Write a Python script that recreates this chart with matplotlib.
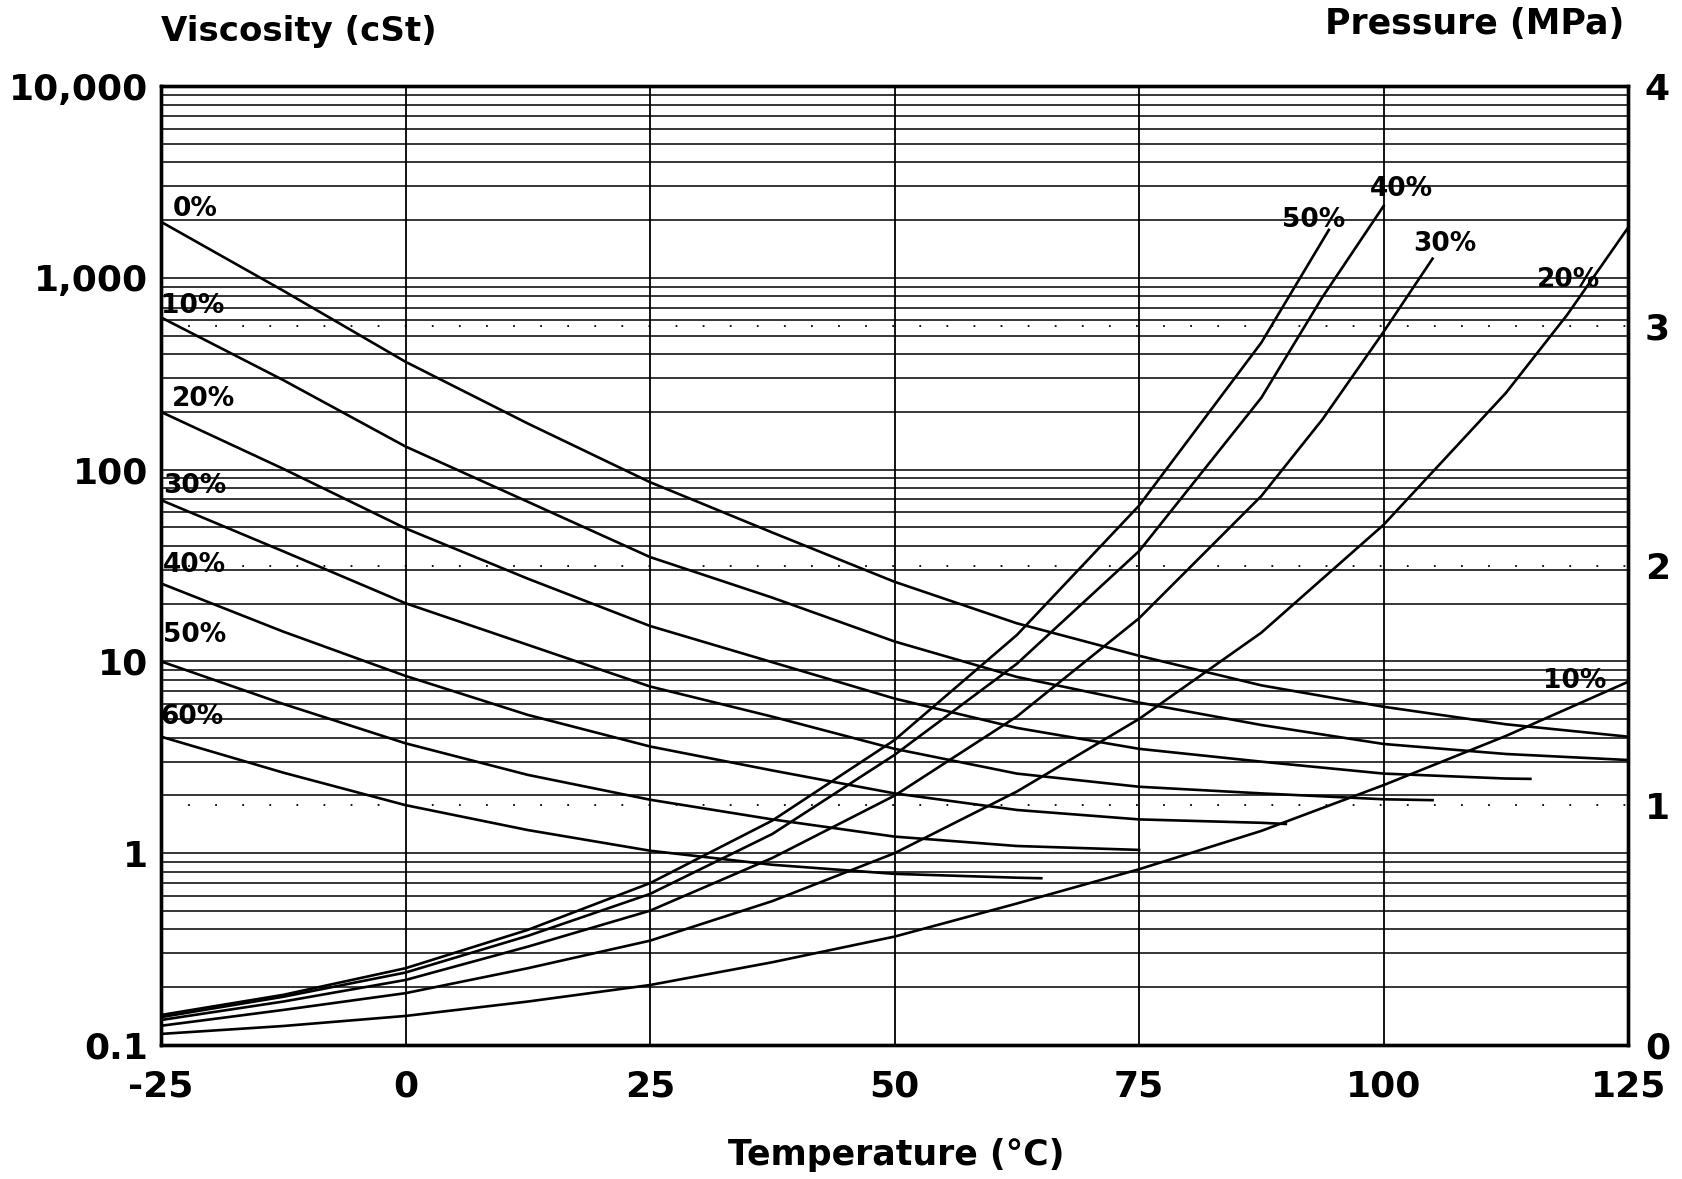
import numpy as np
import matplotlib.pyplot as plt
from matplotlib.ticker import FixedLocator, LogLocator, NullFormatter

plt.rcParams['font.family'] = ['DejaVu Sans']
plt.rcParams['font.weight'] = 'bold'

# temperature (C) where the curves were read
temp = [-25, -12.5, 0, 12.5, 25, 37.5, 50, 62.5, 75, 87.5, 100, 112.5, 125]

# viscosity (cSt), left axis, per % refrigerant
visc_0 = [1960, 857, 365, 174, 86, 47, 26, 15.8, 10.7, 7.5, 5.8, 4.7, 4.05]
visc_10 = [622, 293, 132, 68, 35, 21.5, 12.7, 8.3, 6.1, 4.66, 3.71, 3.29, 3.06]
visc_20_t = [-25, -12.5, 0, 12.5, 25, 37.5, 50, 62.5, 75, 87.5, 100, 112.5, 115]
visc_20 = [200, 101, 49.4, 27, 15.3, 9.9, 6.4, 4.5, 3.5, 3.0, 2.6, 2.45, 2.44]
visc_30_t = [-25, -12.5, 0, 12.5, 25, 37.5, 50, 62.5, 75, 87.5, 100, 105]
visc_30 = [69.4, 37.5, 20.1, 12.2, 7.4, 5.15, 3.5, 2.6, 2.22, 2.05, 1.91, 1.89]
visc_40_t = [-25, -12.5, 0, 12.5, 25, 37.5, 50, 62.5, 75, 87.5, 90]
visc_40 = [25.5, 14.3, 8.4, 5.26, 3.6, 2.7, 2.05, 1.68, 1.5, 1.44, 1.42]
visc_50_t = [-25, -12.5, 0, 12.5, 25, 37.5, 50, 62.5, 75]
visc_50 = [10, 6.0, 3.74, 2.56, 1.9, 1.5, 1.22, 1.09, 1.04]
visc_60_t = [-25, -12.5, 0, 12.5, 25, 37.5, 50, 62.5, 65]
visc_60 = [4.05, 2.63, 1.78, 1.32, 1.03, 0.87, 0.78, 0.745, 0.74]

# pressure (MPa), right axis
press_10 = [0.046, 0.079, 0.121, 0.181, 0.25, 0.345, 0.452, 0.59, 0.733, 0.893, 1.084, 1.289, 1.515]
press_20_t = [-25, -12.5, 0, 12.5, 25, 37.5, 50, 62.5, 75, 87.5, 100, 112.5, 118.75, 125]
press_20 = [0.08, 0.146, 0.216, 0.32, 0.435, 0.6, 0.8, 1.057, 1.36, 1.72, 2.17, 2.72, 3.045, 3.41]
press_30_t = [-25, -12.5, 0, 12.5, 25, 37.5, 50, 62.5, 75, 87.5, 93.75, 100, 105]
press_30 = [0.104, 0.181, 0.271, 0.41, 0.56, 0.78, 1.04, 1.37, 1.78, 2.29, 2.61, 2.975, 3.28]
press_40_t = [-25, -12.5, 0, 12.5, 25, 37.5, 50, 62.5, 75, 87.5, 93.75, 100]
press_40 = [0.116, 0.201, 0.302, 0.455, 0.63, 0.88, 1.21, 1.59, 2.06, 2.7, 3.12, 3.5]
press_50_t = [-25, -12.5, 0, 12.5, 25, 37.5, 50, 62.5, 75, 87.5, 94.4]
press_50 = [0.125, 0.209, 0.32, 0.48, 0.675, 0.936, 1.272, 1.71, 2.25, 2.93, 3.4]

# curve labels: text, temperature, value
visc_labels = [("0%", -21.5, 2280), ("10%", -21.8, 716), ("20%", -20.7, 233),
               ("30%", -21.5, 82), ("40%", -21.6, 31.7), ("50%", -21.6, 13.7),
               ("60%", -21.8, 5.15)]
press_labels = [("50%", 92.8, 3.44), ("40%", 101.8, 3.57), ("30%", 106.3, 3.34),
                ("20%", 118.9, 3.19), ("10%", 119.5, 1.52)]

x_ticks = [-25, 0, 25, 50, 75, 100, 125]
y_ticks = [0.1, 1, 10, 100, 1000, 10000]
y_ticklabels = ["0.1", "1", "10", "100", "1,000", "10,000"]
p_ticks = [0, 1, 2, 3, 4]

fig = plt.figure(figsize=(16.82, 11.79), dpi=100)
ax = fig.add_axes([0.0957, 0.1137, 0.8723, 0.8133])
ax.set_yscale('log')
ax.set_xlim(-25, 125)
ax.set_ylim(0.1, 10000)

ax.xaxis.set_major_locator(FixedLocator(x_ticks))
ax.set_xticklabels([str(t) for t in x_ticks])
ax.yaxis.set_major_locator(FixedLocator(y_ticks))
ax.yaxis.set_minor_locator(LogLocator(base=10, subs=np.arange(2, 10)))
ax.yaxis.set_minor_formatter(NullFormatter())
ax.set_yticklabels(y_ticklabels)
ax.tick_params(which='both', length=0, labelsize=26)
ax.tick_params(axis='x', pad=18)
ax.tick_params(axis='y', pad=9)

ax.grid(axis='x', which='major', color='black', lw=1.3)
ax.grid(axis='y', which='both', color='black', lw=1.1)

lw = 1.9
ax.plot(temp, visc_0, color='black', lw=lw)
ax.plot(temp, visc_10, color='black', lw=lw)
ax.plot(visc_20_t, visc_20, color='black', lw=lw)
ax.plot(visc_30_t, visc_30, color='black', lw=lw)
ax.plot(visc_40_t, visc_40, color='black', lw=lw)
ax.plot(visc_50_t, visc_50, color='black', lw=lw)
ax.plot(visc_60_t, visc_60, color='black', lw=lw)
for txt, t, v in visc_labels:
    ax.text(t, v, txt, fontsize=19, ha='center', va='center')

ax2 = ax.twinx()
ax2.set_ylim(0, 4)
ax2.yaxis.set_major_locator(FixedLocator(p_ticks))
ax2.tick_params(length=0, labelsize=26, pad=12)
for p in p_ticks[1:4]:
    ax2.axhline(p, color='black', lw=1.3, ls=(0, (1, 14)))

ax2.plot(temp, press_10, color='black', lw=lw)
ax2.plot(press_20_t, press_20, color='black', lw=lw)
ax2.plot(press_30_t, press_30, color='black', lw=lw)
ax2.plot(press_40_t, press_40, color='black', lw=lw)
ax2.plot(press_50_t, press_50, color='black', lw=lw)
for txt, t, p in press_labels:
    ax2.text(t, p, txt, fontsize=19, ha='center', va='center')

for a in (ax, ax2):
    for s in a.spines.values():
        s.set_linewidth(2.4)

fig.text(0.0957, 0.973, "Viscosity (cSt)", fontsize=24.5, ha='left', va='center')
fig.text(0.966, 0.98, "Pressure (MPa)", fontsize=25, ha='right', va='center')
fig.text(0.533, 0.02, "Temperature (\u00b0C)", fontsize=25, ha='center', va='center')

fig.savefig("out.png", dpi=100, facecolor='white')
